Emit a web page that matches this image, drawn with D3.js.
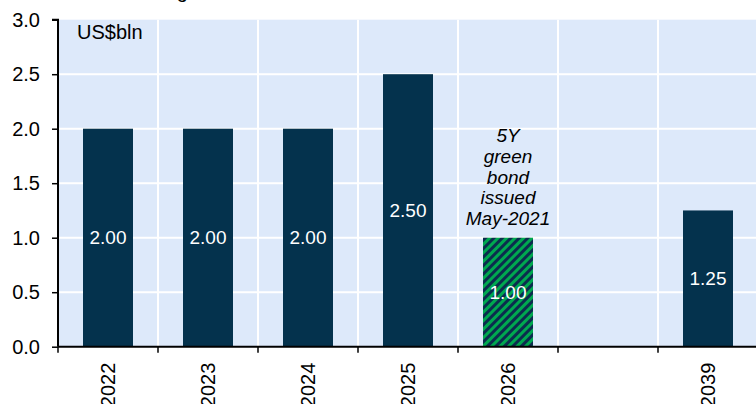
<!DOCTYPE html>
<html>
<head>
<meta charset="utf-8">
<script src="https://cdn.jsdelivr.net/npm/d3@7"></script>
<style>
  html, body { margin: 0; padding: 0; background: #fff; }
  svg { display: block; font-family: "Liberation Sans", Arial, sans-serif; }
</style>
</head>
<body>
<script>
const years = ['2022', '2023', '2024', '2025', '2026', '', '2039'];
const amounts = [2.0, 2.0, 2.0, 2.5, 1.0, null, 1.25];
const green = [false, false, false, false, true, false, false];
const yTicks = [0, 0.5, 1.0, 1.5, 2.0, 2.5, 3.0];
const note = ['5Y', 'green', 'bond', 'issued', 'May-2021'];

const width = 756;
const height = 404;
const plotLeft = 58;
const plotTop = 19.7;
const plotBottom = 346.7;
const plotRight = 758;

const svg = d3.select('body').append('svg')
  .attr('width', width)
  .attr('height', height);

const defs = svg.append('defs');
const pat = defs.append('pattern')
  .attr('id', 'hatch')
  .attr('patternUnits', 'userSpaceOnUse')
  .attr('width', 6)
  .attr('height', 6)
  .attr('patternTransform', 'rotate(-45)');
pat.append('rect').attr('width', 6).attr('height', 6).attr('fill', '#00a84f');
pat.append('rect').attr('width', 6).attr('height', 3).attr('fill', '#0b2d4e');

const x = d3.scaleBand().domain(years).range([plotLeft, plotRight]).padding(0);
const y = d3.scaleLinear().domain([0, 3]).range([plotBottom, plotTop]);

// title, cut off by the top edge in the original
svg.append('text')
  .attr('x', 188).attr('y', -2)
  .attr('text-anchor', 'end')
  .attr('font-size', 20)
  .text('Outstanding');

svg.append('rect')
  .attr('x', plotLeft).attr('y', plotTop)
  .attr('width', plotRight - plotLeft).attr('height', plotBottom - plotTop)
  .attr('fill', '#dde9fa');

// grid
svg.append('g').selectAll('line')
  .data(yTicks.slice(1, -1))
  .join('line')
  .attr('x1', plotLeft).attr('x2', plotRight)
  .attr('y1', d => y(d)).attr('y2', d => y(d))
  .attr('stroke', '#fff').attr('stroke-width', 2);

svg.append('g').selectAll('line')
  .data(years.slice(1))
  .join('line')
  .attr('x1', d => x(d)).attr('x2', d => x(d))
  .attr('y1', plotTop).attr('y2', plotBottom)
  .attr('stroke', '#fff').attr('stroke-width', 2);

// bars
const bw = x.bandwidth() * 0.5;
const bars = years.map((d, i) => ({ year: d, v: amounts[i], g: green[i] }))
  .filter(d => d.v != null);

svg.append('g').selectAll('rect')
  .data(bars)
  .join('rect')
  .attr('x', d => x(d.year) + (x.bandwidth() - bw) / 2)
  .attr('y', d => y(d.v))
  .attr('width', bw)
  .attr('height', d => y(0) - y(d.v))
  .attr('fill', d => (d.g ? 'url(#hatch)' : '#04324d'));

svg.append('g').selectAll('text')
  .data(bars)
  .join('text')
  .attr('x', d => x(d.year) + x.bandwidth() / 2)
  .attr('y', d => y(d.v / 2))
  .attr('dy', '0.35em')
  .attr('text-anchor', 'middle')
  .attr('font-size', 19)
  .attr('fill', '#fff')
  .text(d => d3.format('.2f')(d.v));

// annotation
svg.append('text')
  .attr('x', x('2026') + x.bandwidth() / 2)
  .attr('text-anchor', 'middle')
  .attr('font-size', 19)
  .attr('font-style', 'italic')
  .selectAll('tspan')
  .data(note)
  .join('tspan')
  .attr('x', x('2026') + x.bandwidth() / 2)
  .attr('y', (d, i) => 142 + i * 20.8)
  .text(d => d);

// axes
const yAxis = d3.axisLeft(y).tickValues(yTicks).tickFormat(d3.format('.1f')).tickSize(6).tickPadding(12);
svg.append('g')
  .attr('transform', `translate(${plotLeft},0)`)
  .call(yAxis)
  .call(g => g.select('.domain').attr('stroke-width', 2).attr('d', `M-6,${plotTop}H0V${plotBottom}`))
  .call(g => g.selectAll('.tick line').attr('stroke-width', 1.5))
  .call(g => g.selectAll('.tick text').attr('font-size', 20).attr('fill', '#000').attr('font-family', null));

const xAxis = d3.axisBottom(x).tickSize(0).tickPadding(0);
const xg = svg.append('g')
  .attr('transform', `translate(0,${plotBottom})`)
  .call(xAxis);
xg.select('.domain').attr('stroke-width', 2).attr('d', `M${plotLeft},0H${plotRight}`);
xg.selectAll('.tick text')
  .attr('font-size', 20)
  .attr('fill', '#000')
  .attr('font-family', null)
  .attr('transform', 'rotate(-90)')
  .attr('text-anchor', 'end')
  .attr('x', -16)
  .attr('y', 0)
  .attr('dy', '0.35em');
xg.append('g').selectAll('line')
  .data([plotLeft].concat(years.slice(1).map(d => x(d))))
  .join('line')
  .attr('x1', d => d).attr('x2', d => d)
  .attr('y1', 0).attr('y2', 6)
  .attr('stroke', '#000').attr('stroke-width', 1.5);

svg.append('text')
  .attr('x', 77).attr('y', 39)
  .attr('font-size', 20)
  .text('US$bln');
</script>
</body>
</html>
